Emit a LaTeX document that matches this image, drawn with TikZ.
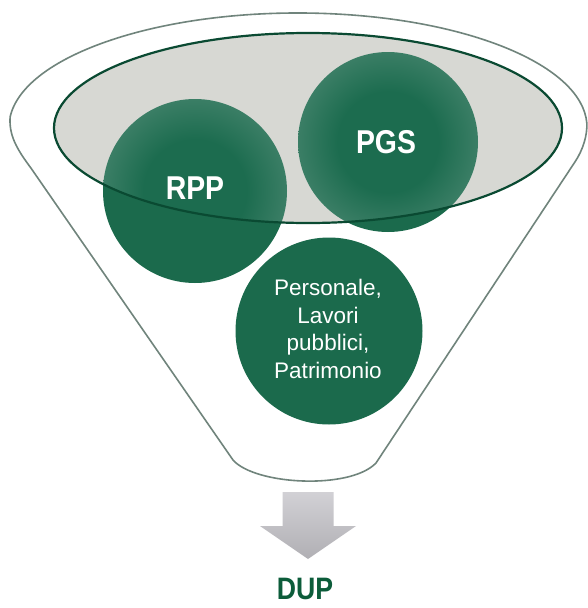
\documentclass[tikz,border=0pt]{standalone}
\usepackage{fontspec}
\setmainfont{Liberation Sans}
\newfontfamily\condbf[FakeStretch=0.86]{Liberation Sans Bold}
\definecolor{gsolid}{RGB}{27,106,76}
\definecolor{gin}{RGB}{28,108,79}
\definecolor{gout}{RGB}{128,167,152}
\definecolor{greyfill}{RGB}{215,216,211}
\definecolor{rimgreen}{RGB}{10,74,50}
\definecolor{funnelline}{RGB}{112,132,124}
\definecolor{dupgreen}{RGB}{12,92,58}
\definecolor{arrowtop}{RGB}{210,209,213}
\definecolor{arrowbot}{RGB}{176,175,180}
\pgfdeclareradialshading{ballshade}{\pgfpoint{0bp}{0bp}}{color(0bp)=(gin); color(14bp)=(gin); color(50bp)=(gout)}
\begin{document}
\begin{tikzpicture}[x=1pt,y=1pt,yscale=-1,
  funnel/.style={draw=funnelline, line width=1.6pt, line join=round},
  ballsolid/.style={fill=gsolid},
  rim/.style={draw=rimgreen, line width=2.2pt},
  bigtxt/.style={text=white, font=\condbf\fontsize{33}{33}\selectfont, inner sep=0pt},
  smalltxt/.style={text=white, font=\fontsize{22.5}{27.7}\selectfont, align=center, inner sep=0pt},
  duptxt/.style={text=dupgreen, font=\condbf\fontsize{31}{31}\selectfont, inner sep=0pt},
  arrowshape/.style={top color=arrowtop, bottom color=arrowbot, draw=none}]
\useasboundingbox (0,0) rectangle (588,608);
\clip (0,0) rectangle (588,608);
\fill[white] (0,0) rectangle (588,608);
% funnel outline
\draw[funnel] (233,460) -- (30.9,168) .. controls (16,148) and (9,135) .. (10.1,117.06)
  arc[start angle=185,end angle=358,x radius=289,y radius=114]
  .. controls (587.5,135) and (583,150) .. (574.9,162) -- (376,463)
  .. controls (350,490) and (255,485) .. cycle;
% solid balls
\fill[ballsolid] (329,331) circle (93.5);
\fill[ballsolid] (195,191) circle (92);
\fill[ballsolid] (388,142) circle (90);
% rim ellipse fill
\fill[greyfill] (308,128) ellipse [x radius=254, y radius=95];
\begin{scope}
  \clip (308,128) ellipse [x radius=254, y radius=95];
  \shade[shading=ballshade] (195,191) circle (92);
  \shade[shading=ballshade] (388,142) circle (90);
\end{scope}
\draw[rim] (308,128) ellipse [x radius=254, y radius=95];
% labels
\node[bigtxt] (rpp) at (195,188) {RPP};
\node[bigtxt] (pgs) at (386,142) {PGS};
\node[smalltxt] (pers) at (328,329) {Personale,\\Lavori\\pubblici,\\Patrimonio};
% arrow
\path[arrowshape] (282.5,492) -- (333.5,492) -- (333.5,526) -- (356,526) -- (308,559) -- (260,526) -- (282.5,526) -- cycle;
\node[duptxt] (dup) at (305,589) {DUP};
\end{tikzpicture}
\end{document}
